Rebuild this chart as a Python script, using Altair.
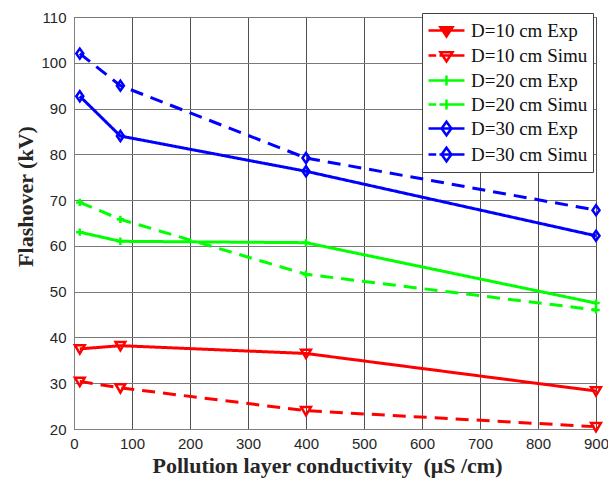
import altair as alt
import pandas as pd

# Conductivity levels tested (uS/cm)
conductivity = [10, 80, 400, 900]

# Flashover voltage (kV) per creepage distance, experiment vs simulation
d10_exp = [37.5, 38.2, 36.5, 28.3]
d10_sim = [30.4, 29.0, 24.0, 20.5]
d20_exp = [63.0, 61.0, 60.7, 47.5]
d20_sim = [69.5, 65.8, 53.8, 46.0]
d30_exp = [92.7, 84.0, 76.3, 62.2]
d30_sim = [102.0, 95.0, 79.2, 67.8]

series_names = [
    "D=10 cm Exp", "D=10 cm Simu",
    "D=20 cm Exp", "D=20 cm Simu",
    "D=30 cm Exp", "D=30 cm Simu",
]
series_values = [d10_exp, d10_sim, d20_exp, d20_sim, d30_exp, d30_sim]
series_colors = ["#ff0000", "#ff0000", "#00ff00", "#00ff00", "#0000ff", "#0000ff"]

rows = []
for name, vals in zip(series_names, series_values):
    for c, v in zip(conductivity, vals):
        rows.append({
            "series": name,
            "group": name.split(" cm")[0],
            "kind": name.split()[-1],
            "x": c,
            "y": v,
        })
df = pd.DataFrame(rows)

# Marker outlines (unit-square paths)
tri_path = "M-1,-0.75L1,-0.75L0,0.95Z"
plus_path = "M-1,0H1M0,-1V1"
diamond_path = "M0,-1L0.7,0L0,1L-0.7,0Z"

# Legend glyphs: a line segment with the marker in its middle.
# The glyph is wider than the nominal symbol box so rows stay compact.
tri_leg_open = "M0.085,-0.3L1.185,-0.3L0.635,0.55Z"
tri_leg_full = tri_leg_open + "M0.36,-0.12L0.91,-0.12L0.635,0.3Z"
plus_leg = "M0.635,-0.45V0.45"
dia_leg = "M0.635,-0.62L1.08,0L0.635,0.62L0.19,0Z"
solid_seg = "M-1,0H2.27"
dash_seg = "M-1,0H-0.3M0.0,0H2.27"
legend_paths = [
    solid_seg + tri_leg_full, dash_seg + tri_leg_open,
    solid_seg + plus_leg, dash_seg + plus_leg,
    solid_seg + dia_leg, dash_seg + dia_leg,
]

serif = "Liberation Serif"
sans = "Liberation Sans"

legend_def = alt.Legend(
    title=None,
    orient="none",
    legendX=348,
    legendY=-4,
    symbolSize=484,
    symbolStrokeWidth=2.5,
    symbolOpacity=1,
    labelFont=serif,
    labelFontSize=19,
    labelColor="#111111",
    labelOffset=19,
    fillColor="white",
    strokeColor="#404040",
    padding=5,
    rowPadding=1,
    cornerRadius=0,
    labelLimit=300,
)

color_scale = alt.Scale(domain=series_names, range=series_colors)

x_enc = alt.X(
    "x:Q",
    scale=alt.Scale(domain=[0, 900], nice=False),
    axis=alt.Axis(
        values=list(range(0, 901, 100)),
        title="Pollution layer conductivity\u00a0 (μS /cm)",
        titleX=253,
        titleY=36,
        titleBaseline="middle",
        titleAlign="center",
        labelPadding=7,
        labelFlush=False,
        gridColor="#505050",
    ),
)
y_enc = alt.Y(
    "y:Q",
    scale=alt.Scale(domain=[20, 110], nice=False),
    axis=alt.Axis(
        values=list(range(20, 111, 10)),
        title="Flashover (kV)",
        titleX=-49,
        titleY=179,
        titleBaseline="middle",
        titleAlign="center",
        labelPadding=8,
        gridColor="#7a7a7a",
    ),
)

base = alt.Chart(df)

lines = base.mark_line(strokeWidth=3).encode(
    x=x_enc,
    y=y_enc,
    detail="series:N",
    color=alt.Color("series:N", scale=color_scale, legend=legend_def),
    strokeDash=alt.StrokeDash(
        "kind:N",
        scale=alt.Scale(domain=["Exp", "Simu"], range=[[1, 0], [13, 8]]),
        legend=None,
    ),
)

markers = []
for grp, path, col, size in [
    ("D=10", tri_path, "#ff0000", 95),
    ("D=20", plus_path, "#00ff00", 55),
    ("D=30", diamond_path, "#0000ff", 100),
]:
    markers.append(
        base.transform_filter(alt.datum.group == grp)
        .mark_point(shape=path, size=size, filled=False, strokeWidth=2.5,
                    color=col, opacity=1)
        .encode(x=x_enc, y=y_enc)
    )

legend_layer = base.transform_filter("false").mark_point(
    filled=False, strokeWidth=2.5, opacity=1
).encode(
    x=x_enc,
    y=y_enc,
    color=alt.Color("series:N", scale=color_scale, legend=legend_def),
    shape=alt.Shape(
        "series:N",
        scale=alt.Scale(domain=series_names, range=legend_paths),
        legend=legend_def,
    ),
)

chart = alt.layer(lines, *markers, legend_layer).properties(
    width=522,
    height=412,
    autosize=alt.AutoSizeParams(type="none"),
    padding={"left": 74, "top": 17, "right": 12, "bottom": 56},
    background="white",
).configure_view(
    stroke="#808080", strokeWidth=1
).configure_axis(
    grid=True,
    gridWidth=1,
    gridOpacity=1,
    domainColor="#808080",
    ticks=False,
    labelFont=sans,
    labelFontSize=15,
    labelColor="#262626",
    titleFont=serif,
    titleFontSize=22,
    titleFontWeight="bold",
    titleColor="#262626",
)

chart.save("out.html", embed_options={"renderer": "svg", "actions": False})
